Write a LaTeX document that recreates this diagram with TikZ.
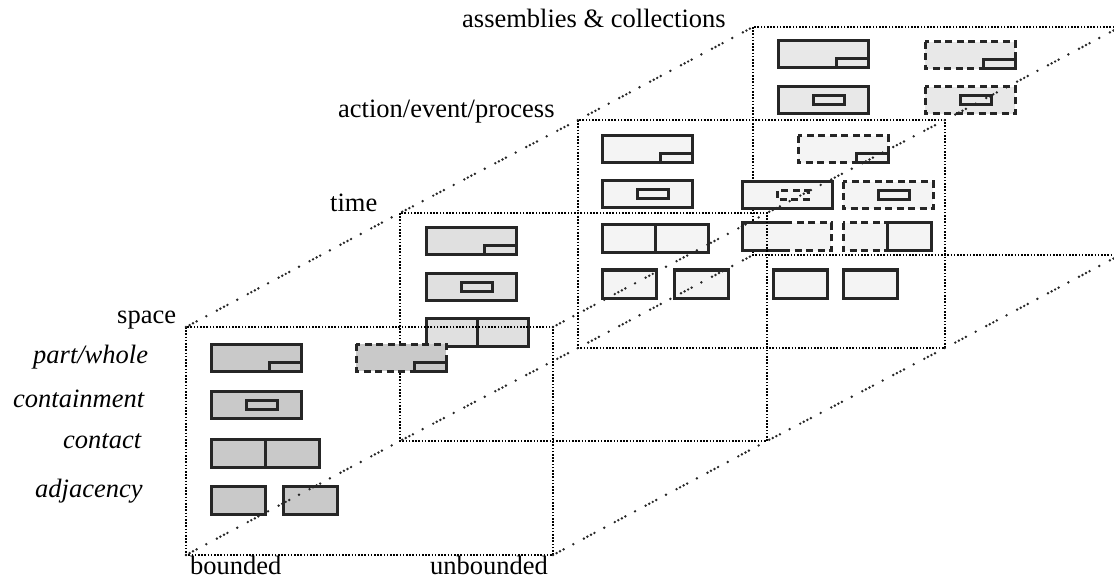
\documentclass[tikz,border=0pt]{standalone}
\usepackage{fontspec}
\setmainfont{Liberation Serif}
\usepackage{tikz}
\usetikzlibrary{calc}
\definecolor{spacegray}{gray}{0.79}
\definecolor{timegray}{gray}{0.88}
\definecolor{actgray}{gray}{0.955}
\definecolor{asmgray}{gray}{0.91}
\newcommand{\pwhole}[5]{%
  \draw[#3,fill=#5] (#1,#2) rectangle ++(90,27);
  \draw[#4,fill=#5] (#1+58,#2+18) rectangle ++(32,9);}
\newcommand{\contain}[5]{%
  \draw[#3,fill=#5] (#1,#2) rectangle ++(90,27);
  \draw[#4,fill=#5] (#1+35,#2+9) rectangle ++(31,9);}
\newcommand{\contact}[4]{%
  \draw[glyph,fill=#4] (#1,#2) rectangle ++(#3,28);
  \draw[glyph,fill=#4] (#1+#3,#2) rectangle ++(#3,28);}
\newcommand{\adjac}[4]{%
  \draw[glyph,fill=#4] (#1,#2) rectangle ++(54,28);
  \draw[glyph,fill=#4] (#1+54+#3,#2) rectangle ++(54,28);}

\begin{document}
\begin{tikzpicture}[x=1pt,y=-1pt,
    frm/.style={draw=black,line width=2pt,dash pattern=on 1.6pt off 1.6pt},
    diag/.style={draw=black!85,line width=2.7pt,line cap=round,
      dash pattern=on 0pt off 4pt on 0pt off 4pt on 0pt off 4pt on 0pt off 11pt on 0pt off 12pt},
    glyph/.style={draw=black!85,line width=3pt},
    dglyph/.style={glyph,dash pattern=on 7pt off 4.5pt},
    lbl/.style={font=\fontsize{26.5}{30}\selectfont,inner sep=0pt,anchor=base west}]
  \useasboundingbox (0,0) rectangle (1114,580);
  \clip (0,0) rectangle (1114,580);
  \fill[white] (0,0) rectangle (1114,580);

  \foreach \f/\x/\y in {s/186/327,t/400/213,a/578/120,c/753/27}{
    \coordinate (\f TL) at (\x,\y);
    \coordinate (\f TR) at (\x+367,\y);
    \coordinate (\f BL) at (\x,\y+228);
    \coordinate (\f BR) at (\x+367,\y+228);
  }

  \draw[frm] (cTL) rectangle (cBR);
  \pwhole{778}{41}{glyph}{glyph}{asmgray}
  \contain{778}{87}{glyph}{glyph}{asmgray}
  \pwhole{925}{42}{dglyph}{glyph}{asmgray}
  \contain{925}{87}{dglyph}{glyph}{asmgray}

  \draw[frm] (aTL) rectangle (aBR);
  \pwhole{602}{136}{glyph}{glyph}{actgray}
  \contain{602}{181}{glyph}{glyph}{actgray}
  \contact{602}{225}{53}{actgray}
  \adjac{602}{270}{18}{actgray}
  \pwhole{798}{136}{dglyph}{glyph}{actgray}
  \contain{742}{182}{glyph}{dglyph}{actgray}
  \contain{843}{182}{dglyph}{glyph}{actgray}
  \draw[dglyph,fill=actgray] (742,223) rectangle (831,251);
  \draw[glyph] (787,223) -- (742,223) -- (742,251) -- (787,251);
  \draw[dglyph,fill=actgray] (843,223) rectangle (931,251);
  \draw[glyph] (887,223) rectangle (931,251);
  \adjac{773}{270}{16}{actgray}

  \draw[frm] (tTL) rectangle (tBR);
  \pwhole{426}{228}{glyph}{glyph}{timegray}
  \contain{426}{273}{glyph}{glyph}{timegray}
  \contact{426}{318}{51}{timegray}

  \draw[frm] (sTL) rectangle (sBR);
  \pwhole{211}{344}{glyph}{glyph}{spacegray}
  \contain{211}{391}{glyph}{glyph}{spacegray}
  \contact{211}{439}{54}{spacegray}
  \adjac{211}{486}{18}{spacegray}
  \pwhole{356}{344}{dglyph}{glyph}{spacegray}

  \draw[diag] (sTL) -- (tTL) -- (aTL) -- (cTL);
  \draw[diag] (sTR) -- (tTR) -- (aTR) -- (cTR);
  \draw[diag] (sBL) -- (tBL) -- (aBL) -- (cBL);
  \draw[diag] (sBR) -- (tBR) -- (aBR) -- (cBR);

  \node[lbl] (space) at (117,323) {space};
  \node[lbl] (time) at (330,212) {time};
  \node[lbl] (action) at (338,118) {action/event/process};
  \node[lbl] (assembly) at (462,28) {assemblies \& collections};
  \node[lbl] (bounded) at (190,574) {bounded};
  \node[lbl] (unbounded) at (430,574) {unbounded};
  \node[lbl,font=\fontsize{26.5}{30}\selectfont\itshape] (partwhole) at (33,363) {part/whole};
  \node[lbl,font=\fontsize{26.5}{30}\selectfont\itshape] (containment) at (13,407) {containment};
  \node[lbl,font=\fontsize{26.5}{30}\selectfont\itshape] (contact) at (63,448) {contact};
  \node[lbl,font=\fontsize{26.5}{30}\selectfont\itshape] (adjacency) at (35,497) {adjacency};
\end{tikzpicture}
\end{document}
